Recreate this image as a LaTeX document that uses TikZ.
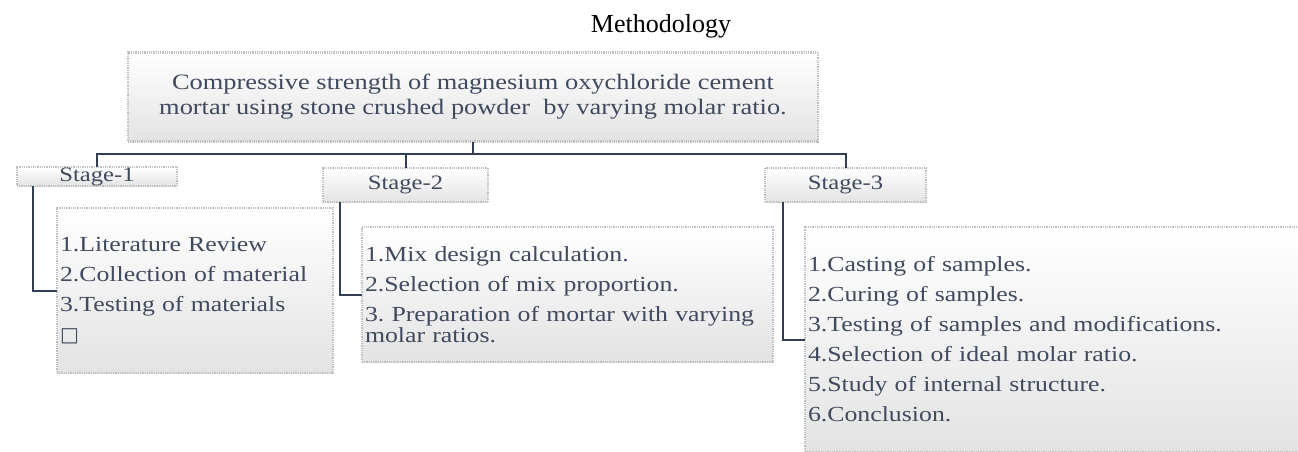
\documentclass[tikz,border=0pt]{standalone}
\usepackage{fontspec}
\setmainfont{Liberation Serif}
\newfontfamily\boxfont{Liberation Serif}[FakeStretch=1.2]
\newfontfamily\symfont{DejaVu Sans}
\definecolor{BoxText}{RGB}{64,74,94}
\definecolor{LinkBlue}{RGB}{48,62,86}
\frenchspacing

\begin{document}
\begin{tikzpicture}[x=1pt,y=-1pt]
  \tikzset{BoxStyle/.style = {
    shape         = rectangle,
    draw          = gray!50,
    line width    = 2.2pt,
    dash pattern  = on 0.9pt off 0.9pt,
    top color     = white,
    bottom color  = gray!22,
    text          = BoxText,
    outer sep     = 0pt
    }
  }
  \tikzset{HeadStyle/.style = {
    BoxStyle,
    inner sep     = 3pt,
    align         = center,
    font          = \boxfont\fontsize{22}{25}\selectfont
    }
  }
  \tikzset{StageStyle/.style = {
    BoxStyle,
    inner xsep    = 3pt,
    inner ysep    = 2pt,
    text height   = 12pt,
    text depth    = 3pt,
    font          = \boxfont\fontsize{20.5}{24}\selectfont
    }
  }
  \tikzset{ListStyle/.style = {
    BoxStyle,
    inner xsep    = 3pt,
    inner ysep    = 0pt,
    align         = left,
    font          = \boxfont\fontsize{21.5}{30}\selectfont
    }
  }
  \tikzset{LinkStyle/.style = {
    draw          = LinkBlue,
    line width    = 2pt
    }
  }

  \useasboundingbox (0,0) rectangle (1298,452);
  \clip (0,0) rectangle (1298,452);

  \node[font=\fontsize{26}{30}\selectfont](Title) at (661,26) {Methodology};

  \node[HeadStyle, minimum width=690pt, minimum height=89pt](Head) at (473,97)
    {Compressive strength of magnesium oxychloride cement\\
     mortar using stone crushed powder \ by varying molar ratio.};

  \node[StageStyle, minimum width=160pt](S1) at (97,176.5) {Stage-1};
  \node[StageStyle, minimum width=165pt, minimum height=34pt](S2) at (405.5,185) {Stage-2};
  \node[StageStyle, minimum width=161pt, minimum height=34pt](S3) at (845.5,185) {Stage-3};

  \node[ListStyle, text width=270pt, minimum height=165pt](L1) at (195,290.5)
    {1.Literature Review\\
     2.Collection of material\\
     3.Testing of materials\\
     {\symfont\fontsize{20}{30}\selectfont □}};
  \node[ListStyle, text width=405pt, minimum height=135pt](L2) at (567.5,294.5)
    {1.Mix design calculation.\\
     2.Selection of mix proportion.\\
     3. Preparation of mortar with varying\\[-9pt]
     molar ratios.};
  \node[ListStyle, text width=499pt, minimum height=225pt](L3) at (1057.5,339.5)
    {1.Casting of samples.\\
     2.Curing of samples.\\
     3.Testing of samples and modifications.\\
     4.Selection of ideal molar ratio.\\
     5.Study of internal structure.\\
     6.Conclusion.};

  \draw[LinkStyle](Head.south) -- ++(0,12) coordinate (Fork);
  \draw[LinkStyle](Fork) -| (S1.north);
  \draw[LinkStyle](Fork) -| (S2.north);
  \draw[LinkStyle](Fork) -| (S3.north);
  \draw[LinkStyle]([xshift=16pt]S1.south west) |- (L1.west);
  \draw[LinkStyle]([xshift=17pt]S2.south west) |- (L2.west);
  \draw[LinkStyle]([xshift=18pt]S3.south west) |- (L3.west);

\end{tikzpicture}
\end{document}
